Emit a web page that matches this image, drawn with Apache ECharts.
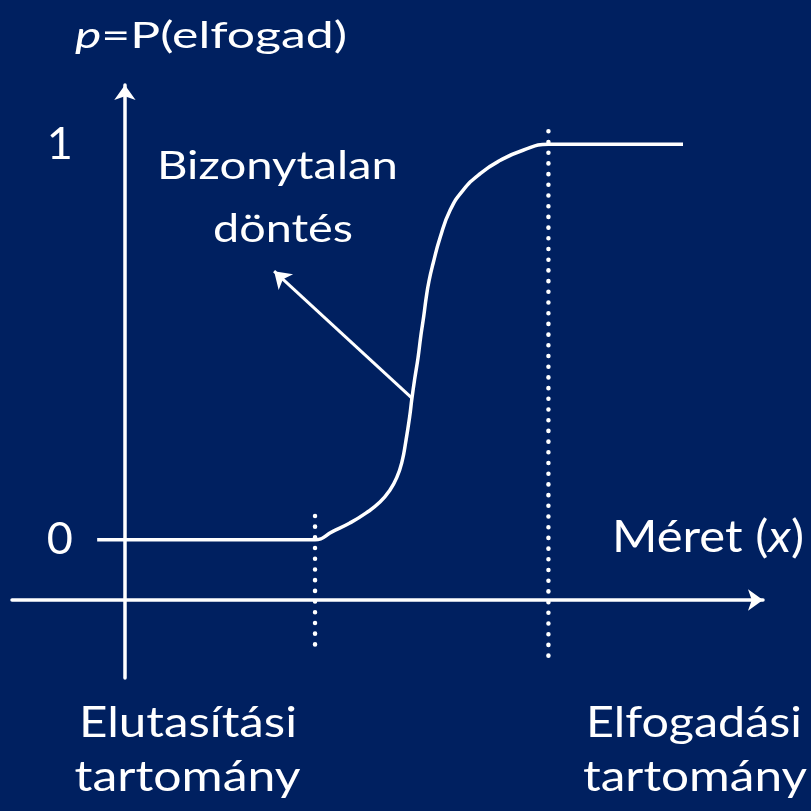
<!DOCTYPE html>
<html>
<head>
<meta charset="utf-8">
<title>Elfogadási valószínűség</title>
<script src="https://cdn.jsdelivr.net/npm/echarts@6/dist/echarts.min.js"></script>
<style>
  html, body { margin: 0; padding: 0; background: #002060; }
  #chart { width: 811px; height: 811px; }
</style>
</head>
<body>
<div id="chart"></div>
<script>
// Méret (x) and the probability of acceptance p = P(elfogad)
const sizeValues = [-0.59, 4.04, 4.42, 4.78, 5.12, 5.42, 5.63, 5.78, 5.89, 5.97, 6.05, 6.10, 6.16, 6.23, 6.29, 6.35, 6.40, 6.46, 6.55, 6.70, 6.91, 7.18, 7.55, 7.97, 8.46, 9.0, 11.86];
const acceptProb = [0, 0, 0.021, 0.042, 0.067, 0.095, 0.125, 0.158, 0.198, 0.249, 0.310, 0.358, 0.408, 0.461, 0.517, 0.565, 0.610, 0.653, 0.699, 0.765, 0.833, 0.883, 0.926, 0.959, 0.985, 1.0, 1.0];

// Borders of the rejection and acceptance regions (dotted verticals)
const regionBounds = [4.04, 9.0];
const boundTop = [0.06, 1.033];
const boundBottom = [-0.289, -0.315];

// Probability tick labels
const probTicks = [0, 1];

// Point on the curve that the "Bizonytalan döntés" arrow starts from, and its head
const arrowFromIndex = 11;
const arrowHead = [3.17, 0.679];

const FONT = 'Lato';
const WHITE = '#ffffff';

const curve = sizeValues.map((x, i) => [x, acceptProb[i]]);

const boundSeries = regionBounds.map((x, i) => ({
  type: 'line',
  data: [[x, boundTop[i]], [x, boundBottom[i]]],
  symbol: 'none',
  silent: true,
  lineStyle: { color: WHITE, width: 4.5, type: [0.1, 10.6], cap: 'round' },
  z: 1
}));

// Stretch a text horizontally so that it spans the given width
const measureCtx = document.createElement('canvas').getContext('2d');
function fitScale(text, size, width, italicPart) {
  measureCtx.font = size + 'px ' + FONT;
  let w = measureCtx.measureText(text).width;
  if (italicPart) {
    measureCtx.font = 'italic ' + size + 'px ' + FONT;
    w += measureCtx.measureText(italicPart).width;
  }
  return width / w;
}

function label(text, size, x, y, width, align) {
  return {
    type: 'text', x: x, y: y,
    scaleX: fitScale(text, size, width),
    style: { text: text, fontFamily: FONT, fontSize: size, fill: WHITE, align: align || 'center', verticalAlign: 'middle' }
  };
}

const chart = echarts.init(document.getElementById('chart'), null, { renderer: 'canvas' });

// The vertical axis sits at x = 0, the horizontal one a little below p = 0
const axisLeftShift = -112.9;
const axisDownShift = -78;

chart.setOption({
  backgroundColor: '#002060',
  animation: false,
  grid: { left: 12, right: 48, top: 85, bottom: 133, outerBoundsMode: 'none', containLabel: false },
  xAxis: {
    type: 'value',
    min: -2.4,
    max: 13.56,
    offset: axisDownShift,
    splitLine: { show: false },
    axisTick: { show: false },
    axisLabel: { show: false },
    axisLine: {
      onZero: false,
      symbol: ['none', 'arrow'],
      symbolSize: [16, 15],
      lineStyle: { color: WHITE, width: 3.5 }
    }
  },
  yAxis: {
    type: 'value',
    min: -0.35,
    max: 1.15,
    offset: axisLeftShift,
    splitLine: { show: false },
    axisTick: { show: false },
    axisLabel: {
      customValues: probTicks,
      formatter: v => String(v),
      color: WHITE,
      fontFamily: FONT,
      fontSize: 45,
      margin: 52
    },
    axisLine: {
      onZero: false,
      symbol: ['none', 'arrow'],
      symbolSize: [16, 15],
      lineStyle: { color: WHITE, width: 3.5 }
    }
  },
  series: [
    ...boundSeries,
    {
      type: 'line',
      data: curve,
      symbol: 'none',
      smooth: 0.5,
      lineStyle: { color: WHITE, width: 3.5 },
      z: 3,
      markLine: {
        silent: true,
        symbol: ['none', 'arrow'],
        symbolSize: [16, 16],
        label: { show: false },
        lineStyle: { color: WHITE, width: 3, type: 'solid' },
        data: [[
          { coord: curve[arrowFromIndex] },
          { coord: arrowHead }
        ]]
      }
    }
  ],
  graphic: [
    {
      type: 'text', x: 211, y: 36,
      scaleX: fitScale('=P(elfogad)', 36, 272, 'p'),
      style: {
        text: '{i|p}{n|=P(elfogad)}',
        align: 'center', verticalAlign: 'middle',
        rich: {
          i: { fontFamily: FONT, fontSize: 36, fontStyle: 'italic', fill: WHITE },
          n: { fontFamily: FONT, fontSize: 36, fill: WHITE }
        }
      }
    },
    label('Bizonytalan', 39, 277.5, 166, 241),
    label('döntés', 39, 283, 229, 140),
    {
      type: 'text', x: 804, y: 538,
      scaleX: fitScale('Méret ()', 44, 192, 'x'),
      style: {
        text: '{n|Méret (}{i|x}{n|)}',
        align: 'right', verticalAlign: 'middle',
        rich: {
          i: { fontFamily: FONT, fontSize: 44, fontStyle: 'italic', fill: WHITE },
          n: { fontFamily: FONT, fontSize: 44, fill: WHITE }
        }
      }
    },
    label('Elutasítási', 42, 188, 723, 218),
    label('tartomány', 42, 187.5, 777, 226),
    label('Elfogadási', 42, 694, 723, 216),
    label('tartomány', 42, 695, 777, 224)
  ]
});
</script>
</body>
</html>
